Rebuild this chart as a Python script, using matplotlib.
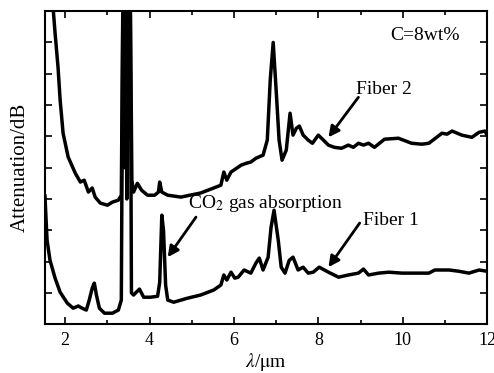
import matplotlib
matplotlib.use("Agg")
import matplotlib.pyplot as plt
from matplotlib.ticker import MultipleLocator, NullFormatter

plt.rcParams['font.family'] = ['Liberation Serif', 'DejaVu Serif']
plt.rcParams['mathtext.fontset'] = 'stix'

# Fiber 2 (upper curve)
fiber2_x = [1.69, 1.76, 1.83, 1.88, 1.95, 2.07, 2.24, 2.36, 2.45, 2.55, 2.64, 2.71,
            2.83, 3.0, 3.12, 3.26, 3.33, 3.37, 3.40, 3.42, 3.45, 3.48, 3.51, 3.54,
            3.58, 3.62, 3.71, 3.81, 3.95, 4.12, 4.21, 4.24, 4.29, 4.43, 4.74, 5.21,
            5.52, 5.69, 5.76, 5.83, 5.93, 6.17, 6.29, 6.40, 6.52, 6.69, 6.79,
            6.86, 6.93, 7.0, 7.07, 7.14, 7.24, 7.33, 7.40, 7.48, 7.55, 7.64,
            7.76, 7.86, 8.0, 8.12, 8.24, 8.38, 8.55, 8.71, 8.83, 8.95, 9.07,
            9.19, 9.33, 9.57, 9.90, 10.21, 10.45, 10.62, 10.93, 11.05, 11.17,
            11.40, 11.64, 11.81, 11.95, 12.0]
fiber2_y = [10.5, 9.30, 8.21, 7.16, 6.10, 5.34, 4.82, 4.54, 4.60, 4.22, 4.35, 4.06,
            3.87, 3.80, 3.90, 3.96, 4.12, 11.0, 6.0, 11.0, 7.0, 11.0, 8.0, 11.0,
            4.6, 4.22, 4.50, 4.28, 4.12, 4.12, 4.22, 4.54, 4.22, 4.12, 4.06, 4.19,
            4.35, 4.44, 4.86, 4.60, 4.86, 5.08, 5.14, 5.18, 5.30, 5.40, 5.88,
            7.80, 9.0, 7.48, 5.88, 5.24, 5.56, 6.74, 6.04, 6.26, 6.33, 6.04,
            5.88, 5.78, 6.04, 5.88, 5.72, 5.65, 5.62, 5.72, 5.65, 5.78, 5.72,
            5.78, 5.65, 5.91, 5.94, 5.78, 5.75, 5.78, 6.10, 6.07, 6.17,
            6.04, 5.97, 6.13, 6.17, 6.04]

# Fiber 1 (lower curve)
fiber1_x = [1.52, 1.57, 1.64, 1.76, 1.88, 2.05, 2.19, 2.31, 2.40, 2.50, 2.57, 2.64,
            2.69, 2.74, 2.81, 2.93, 3.12, 3.26, 3.33, 3.37, 3.40, 3.43, 3.46, 3.49,
            3.52, 3.54, 3.57, 3.62, 3.76, 3.86, 4.02, 4.19, 4.24, 4.29, 4.33, 4.38,
            4.43, 4.57, 4.90, 5.21, 5.52, 5.69, 5.76, 5.83, 5.93, 6.02, 6.10, 6.24,
            6.40, 6.52, 6.60, 6.69, 6.81, 6.88, 6.95, 7.05, 7.12, 7.21, 7.31,
            7.40, 7.52, 7.64, 7.76, 7.88, 8.02, 8.24, 8.48, 8.71, 8.95, 9.07,
            9.19, 9.43, 9.67, 9.98, 10.29, 10.62, 10.76, 11.10, 11.33, 11.57,
            11.81, 12.0]
fiber1_y = [4.1, 2.68, 2.04, 1.47, 1.02, 0.67, 0.51, 0.58, 0.51, 0.45, 0.77, 1.15,
            1.31, 0.93, 0.51, 0.35, 0.35, 0.45, 0.77, 11.0, 5.0, 11.0, 4.0, 11.0,
            6.0, 11.0, 1.0, 0.93, 1.12, 0.86, 0.86, 0.89, 1.34, 3.48, 3.0, 1.25,
            0.77, 0.70, 0.83, 0.93, 1.09, 1.25, 1.57, 1.41, 1.66, 1.47, 1.50, 1.73,
            1.63, 1.95, 2.11, 1.73, 2.14, 3.10, 3.64, 2.68, 1.82, 1.63, 2.04,
            2.14, 1.73, 1.82, 1.63, 1.66, 1.82, 1.66, 1.50, 1.57, 1.63, 1.76,
            1.57, 1.63, 1.66, 1.63, 1.63, 1.63, 1.73, 1.73, 1.69, 1.63,
            1.73, 1.69]

fig = plt.figure(figsize=(4.94, 3.73), dpi=100)
ax = fig.add_axes([0.091, 0.131, 0.895, 0.839])

ax.plot(fiber2_x, fiber2_y, color='black', lw=2.5, solid_joinstyle='round')
ax.plot(fiber1_x, fiber1_y, color='black', lw=2.5, solid_joinstyle='round')

ax.set_xlim(1.52, 12)
ax.set_ylim(0, 10)
ax.xaxis.set_major_locator(MultipleLocator(2))
ax.xaxis.set_minor_locator(MultipleLocator(1))
ax.yaxis.set_major_locator(MultipleLocator(1))
ax.yaxis.set_major_formatter(NullFormatter())
ax.tick_params(which='both', direction='in', top=True, right=True, width=1.2)
ax.tick_params(which='major', length=5, labelsize=13, pad=6)
ax.tick_params(which='minor', length=3)
for s in ax.spines.values():
    s.set_linewidth(1.5)

ax.set_xlabel(r'$\mathit{\lambda}$/$\mathrm{\mu}$m', fontsize=14, labelpad=1)
ax.set_ylabel('Attenuation/dB', fontsize=15, labelpad=5)

ax.text(10.52, 9.23, 'C=8wt%', fontsize=14, ha='center', va='center')

arrow = dict(arrowstyle='-|>', color='black', lw=2, mutation_scale=16,
             shrinkA=0, shrinkB=0)
ax.annotate('', xy=(8.24, 5.97), xytext=(8.95, 7.25), arrowprops=arrow)
ax.text(8.90, 7.5, 'Fiber 2', fontsize=14, ha='left', va='center')
ax.annotate('', xy=(8.24, 1.82), xytext=(8.98, 3.23), arrowprops=arrow)
ax.text(9.07, 3.32, 'Fiber 1', fontsize=14, ha='left', va='center')
ax.annotate('', xy=(4.43, 2.14), xytext=(5.10, 3.42), arrowprops=arrow)
ax.text(4.90, 3.87, 'CO$_2$ gas absorption', fontsize=14, ha='left', va='center')

fig.savefig('out.png', dpi=100)
